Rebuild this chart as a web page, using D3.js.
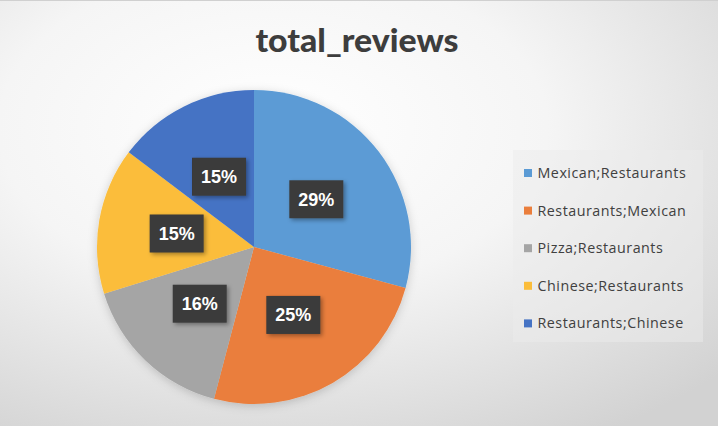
<!DOCTYPE html>
<html>
<head>
<meta charset="utf-8">
<script src="https://cdn.jsdelivr.net/npm/d3@7"></script>
<style>
  html, body { margin: 0; padding: 0; background: #fff; }
  svg { display: block; }
</style>
</head>
<body>
<svg id="chart" width="718" height="426"></svg>
<script>
const title = "total_reviews";
const categories = ["Mexican;Restaurants", "Restaurants;Mexican", "Pizza;Restaurants", "Chinese;Restaurants", "Restaurants;Chinese"];
const values = [29.2, 24.9, 16.1, 15.1, 14.7];
const colors = ["#5b9bd5", "#ea7e3c", "#a5a5a5", "#fbbd3a", "#4573c4"];

const W = 718, H = 426;
const svg = d3.select("#chart");
const defs = svg.append("defs");

const bg = defs.append("radialGradient").attr("id", "bg")
  .attr("cx", "0.38").attr("cy", "0.3").attr("r", "0.85");
bg.append("stop").attr("offset", "0").attr("stop-color", "#ffffff");
bg.append("stop").attr("offset", "0.45").attr("stop-color", "#f5f5f5");
bg.append("stop").attr("offset", "1").attr("stop-color", "#d2d2d2");

const shadow = defs.append("filter").attr("id", "shadow")
  .attr("x", "-20%").attr("y", "-20%").attr("width", "150%").attr("height", "150%");
shadow.append("feDropShadow").attr("dx", 2).attr("dy", 2).attr("stdDeviation", 2)
  .attr("flood-color", "#000").attr("flood-opacity", 0.35);

const pieShadow = defs.append("filter").attr("id", "pieShadow")
  .attr("x", "-20%").attr("y", "-20%").attr("width", "140%").attr("height", "140%");
pieShadow.append("feDropShadow").attr("dx", 0).attr("dy", 2).attr("stdDeviation", 5)
  .attr("flood-color", "#000").attr("flood-opacity", 0.18);

svg.append("rect").attr("width", W).attr("height", H).attr("fill", "url(#bg)");
svg.append("line").attr("x1", 0).attr("x2", W).attr("y1", 0.5).attr("y2", 0.5)
  .attr("stroke", "#d0d0d0");

svg.append("text").attr("x", 357).attr("y", 52)
  .attr("text-anchor", "middle")
  .attr("font-family", "Lato, 'Open Sans', sans-serif")
  .attr("font-weight", "900").attr("font-size", 32)
  .attr("textLength", 203).attr("lengthAdjust", "spacingAndGlyphs")
  .attr("fill", "#3d3d3d").text(title);

const cx = 254, cy = 247, R = 157;
const pie = d3.pie().sort(null).value(d => d)(values);
const arc = d3.arc().innerRadius(0).outerRadius(R);
const labelArc = d3.arc().innerRadius(R * 0.5).outerRadius(R * 0.5);

const g = svg.append("g").attr("transform", `translate(${cx},${cy})`);
g.append("g").attr("filter", "url(#pieShadow)")
  .selectAll("path").data(pie).join("path")
  .attr("d", arc).attr("fill", (d, i) => colors[i]);

const total = d3.sum(values);
const labels = g.selectAll("g.lbl").data(pie).join("g").attr("class", "lbl")
  .attr("transform", d => `translate(${labelArc.centroid(d)})`);
labels.append("rect").attr("x", -27).attr("y", -19).attr("width", 54).attr("height", 38)
  .attr("fill", "#3a3a3a").attr("filter", "url(#shadow)");
labels.append("text").attr("text-anchor", "middle").attr("dy", "0.36em")
  .attr("font-family", "'Liberation Sans', Arial, sans-serif")
  .attr("font-weight", "bold").attr("font-size", 18).attr("fill", "#ffffff")
  .text(d => Math.round(d.value / total * 100) + "%");

// legend
const lg = svg.append("g");
lg.append("rect").attr("x", 513).attr("y", 150).attr("width", 190).attr("height", 192)
  .attr("fill", "#ebebeb").attr("opacity", 0.5);
const items = lg.selectAll("g.item").data(categories).join("g").attr("class", "item")
  .attr("transform", (d, i) => `translate(524,${173 + i * 37.6})`);
items.append("rect").attr("x", 0).attr("y", -4).attr("width", 8).attr("height", 8)
  .attr("fill", (d, i) => colors[i]);
items.append("text").attr("x", 13.5).attr("dy", "0.35em")
  .attr("font-family", "'Open Sans', sans-serif").attr("font-size", 14.3)
  .attr("letter-spacing", 0.5)
  .attr("fill", "#404040").text(d => d);
</script>
</body>
</html>
